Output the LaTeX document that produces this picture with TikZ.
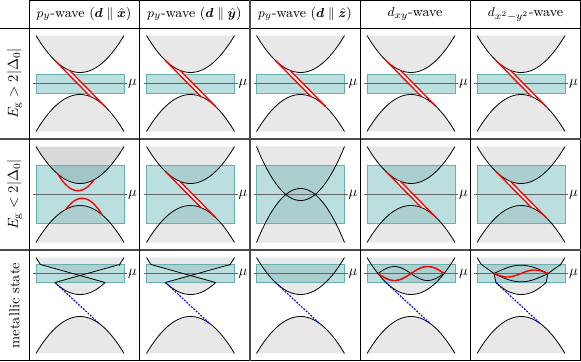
\documentclass[tikz,border=0pt]{standalone}
\usepackage{amsmath,amssymb,bm}
\definecolor{bandgray}{gray}{0.91}
\definecolor{bandgrayD}{gray}{0.85}
\definecolor{winfill}{RGB}{60,160,160}
\definecolor{winedge}{RGB}{105,175,175}
\tikzset{
  band/.style={line width=0.55pt,black},
  winbox/.style={fill=winfill,fill opacity=0.35,draw=winedge,line width=0.5pt},
  muline/.style={line width=0.4pt,black!60},
  redmode/.style={red,line width=0.95pt},
  bluemode/.style={blue,line width=0.8pt,dash pattern=on 1.3pt off 0.9pt},
  tabrule/.style={line width=0.6pt,black},
  softrule/.style={line width=0.9pt,black!70},
  mulabel/.style={inner sep=0pt},
  headtext/.style={inner sep=0pt,font=\fontsize{9.4}{11}\selectfont},
  sidetext/.style={inner sep=0pt,rotate=90},
}
\def\pa{0.01911}
\def\kt{39.62}
\def\kb{25.06}
\def\kF{33.15}
\newcommand\upfill[1][bandgray]{\fill[#1] plot[domain=-44:44,samples=45] (\x,{11+\pa*\x*\x}) -- cycle;}
\newcommand\lowfill{\fill[bandgray] plot[domain=-44:44,samples=45] (\x,{-11-\pa*\x*\x}) -- cycle;}
\newcommand\upcurve{\draw[band] plot[domain=-44:44,samples=45] (\x,{11+\pa*\x*\x});}
\newcommand\lowcurve{\draw[band] plot[domain=-44:44,samples=45] (\x,{-11-\pa*\x*\x});}
\newcommand\window[3]{%
  \filldraw[winbox] (-44,#1-#2) rectangle (44,#1+#2);
  \draw[muline] (-47,#1) -- (47,#1);
  \node[mulabel] (mu#3) at (52.5,#1) {$\mu$};}
\newcommand\sliver{%
  \coordinate (a1) at (-25,{11+\pa*625});
  \coordinate (a2) at (10.5,{-11-\pa*110.25});
  \coordinate (b1) at (-10.5,{11+\pa*110.25});
  \coordinate (b2) at (25,{-11-\pa*625});
  \fill[white] (a1) -- (a2) -- plot[domain=10.5:25,samples=12] (\x,{-11-\pa*\x*\x}) -- (b1) -- plot[domain=-10.5:-25,samples=12] (\x,{11+\pa*\x*\x}) -- cycle;}
\newcommand\sliverlines{\draw[redmode] (a1) -- (a2); \draw[redmode] (b1) -- (b2);}
\newcommand\gappanel[2]{\upfill \lowfill \window{0}{#1}{#2} \sliver \upcurve \lowcurve \sliverlines}
\newcommand\bluedot{%
  \coordinate (c1) at (-\kb,23);
  \coordinate (c2) at (19,{-11-\pa*361});
  \draw[bluemode] (c1) -- (c2);}
\newcommand\metalX[1]{%
  \fill[bandgray] plot[domain=-44:-\kt,samples=8] (\x,{11+\pa*\x*\x}) -- (0,32) -- plot[domain=\kt:44,samples=8] (\x,{11+\pa*\x*\x}) -- cycle;
  \fill[bandgray] (-\kb,23) -- (0,32) -- (\kb,23) -- plot[domain=\kb:-\kb,samples=30] (\x,{11+\pa*\x*\x}) -- cycle;
  \lowfill
  \window{32}{9}{#1}
  \draw[band] plot[domain=-44:-\kt,samples=8] (\x,{11+\pa*\x*\x}) -- (\kb,23);
  \draw[band] (-\kb,23) -- (\kt,41) -- plot[domain=\kt:44,samples=8] (\x,{11+\pa*\x*\x});
  \draw[band] plot[domain=-\kb:\kb,samples=30] (\x,{11+\pa*\x*\x});
  \lowcurve
  \bluedot}
\begin{document}
\begin{tikzpicture}[x=0.69pt,y=0.69pt]
\useasboundingbox (0,0) rectangle (581,361);
% ---- row 1 ----
\begin{scope}[shift={(80,277.5)}]\gappanel{9.5}{a1}\end{scope}
\begin{scope}[shift={(190.5,277.5)}]\gappanel{9.5}{a2}\end{scope}
\begin{scope}[shift={(300.5,277.5)}]\gappanel{9.5}{a3}\end{scope}
\begin{scope}[shift={(411,277.5)}]\gappanel{9.5}{a4}\end{scope}
\begin{scope}[shift={(521,277.5)}]\gappanel{9.5}{a5}\end{scope}
% ---- row 2 ----
\begin{scope}[shift={(80,166.5)}]
  \upfill[bandgrayD] \lowfill \window{0}{29}{b1} \upcurve \lowcurve
  \draw[redmode] plot[domain=-22:14,samples=30] (\x,{4+0.0417*\x*\x+0.18*\x});
  \draw[redmode] plot[domain=-14:22,samples=30] (\x,{-4-0.0417*\x*\x+0.18*\x});
\end{scope}
\begin{scope}[shift={(190.5,166.5)}]\gappanel{29}{b2}\end{scope}
\begin{scope}[shift={(300.5,166.5)}]
  \fill[bandgray] plot[domain=-44:44,samples=45] (\x,{-6+0.0279*\x*\x}) -- cycle;
  \fill[bandgray] plot[domain=-44:44,samples=45] (\x,{6-0.0279*\x*\x}) -- cycle;
  \window{0}{29}{b3}
  \draw[band] plot[domain=-44:44,samples=45] (\x,{-6+0.0279*\x*\x});
  \draw[band] plot[domain=-44:44,samples=45] (\x,{6-0.0279*\x*\x});
\end{scope}
\begin{scope}[shift={(411,166.5)}]\gappanel{29}{b4}\end{scope}
\begin{scope}[shift={(521,166.5)}]\gappanel{29}{b5}\end{scope}
% ---- row 3 ----
\begin{scope}[shift={(80,55.5)}]\metalX{c1}\end{scope}
\begin{scope}[shift={(190.5,55.5)}]\metalX{c2}\end{scope}
\begin{scope}[shift={(300.5,55.5)}]
  \upfill \lowfill \window{32}{9}{c3} \upcurve \lowcurve \bluedot
\end{scope}
\begin{scope}[shift={(411,55.5)}]
  \upfill \lowfill \window{32}{9}{c4} \upcurve \lowcurve
  \draw[band] plot[domain=-\kF:\kF,samples=50] (\x,{32+7*sin(180*(\x+\kF)/\kF)});
  \draw[band] plot[domain=-\kF:\kF,samples=50] (\x,{32-7*sin(180*(\x+\kF)/\kF)});
  \bluedot
  \draw[redmode] plot[domain=-\kF:\kF,samples=50] (\x,{32-7*sin(180*(\x+\kF)/\kF)});
\end{scope}
\begin{scope}[shift={(521,55.5)}]
  \fill[bandgray] plot[domain=-44:-\kt,samples=8] (\x,{11+\pa*\x*\x}) -- (-27,32) -- (-\kb,23) -- plot[domain=-\kb:\kb,samples=30] (\x,{11+\pa*\x*\x}) -- (27,32) -- (\kt,41) -- plot[domain=\kt:44,samples=8] (\x,{11+\pa*\x*\x}) -- cycle;
  \lowfill
  \window{32}{9}{c5}
  \draw[band] plot[domain=-44:-\kt,samples=8] (\x,{11+\pa*\x*\x}) -- (-27,32) -- (-\kb,23) -- plot[domain=-\kb:\kb,samples=30] (\x,{11+\pa*\x*\x}) -- (27,32) -- (\kt,41) -- plot[domain=\kt:44,samples=8] (\x,{11+\pa*\x*\x});
  \draw[band] plot[domain=-27:27,samples=40] (\x,{32+8.3*cos(90*\x/27)});
  \draw[band] plot[domain=-27:27,samples=40] (\x,{32-8.3*cos(90*\x/27)});
  \lowcurve
  \bluedot
  \draw[redmode] plot[domain=-27:27,samples=40] (\x,{32+3.5*sin(180*\x/27)});
\end{scope}
% ---- texts ----
\node[headtext] (h1) at (84,347) {$p_y$-wave ($\bm{d}\parallel\hat{\bm{x}}$)};
\node[headtext] (h2) at (194.5,347) {$p_y$-wave ($\bm{d}\parallel\hat{\bm{y}}$)};
\node[headtext] (h3) at (305,347) {$p_y$-wave ($\bm{d}\parallel\hat{\bm{z}}$)};
\node[headtext] (h4) at (415,347) {$d_{xy}$-wave};
\node[headtext] (h5) at (525.5,347) {$d_{x^2-y^2}$-wave};
\node[sidetext] (s1) at (14.5,277.5) {$E_\mathrm{g}>2|\Delta_0|$};
\node[sidetext] (s2) at (14.5,166.5) {$E_\mathrm{g}<2|\Delta_0|$};
\node[sidetext] (s3) at (14.5,55.5) {metallic state};
% ---- table rules ----
\draw[tabrule] (29,360.5) -- (580.5,360.5) -- (580.5,0.5) -- (0,0.5);
\draw[tabrule] (0,333) -- (581,333);
\draw[softrule] (0,222) -- (581,222);
\draw[softrule] (0,111) -- (581,111);
\foreach \vx in {29,139,360,470} {\draw[tabrule] (\vx,0.5) -- (\vx,360.5);}
\draw[softrule] (250,0.5) -- (250,360.5);
\end{tikzpicture}
\end{document}
